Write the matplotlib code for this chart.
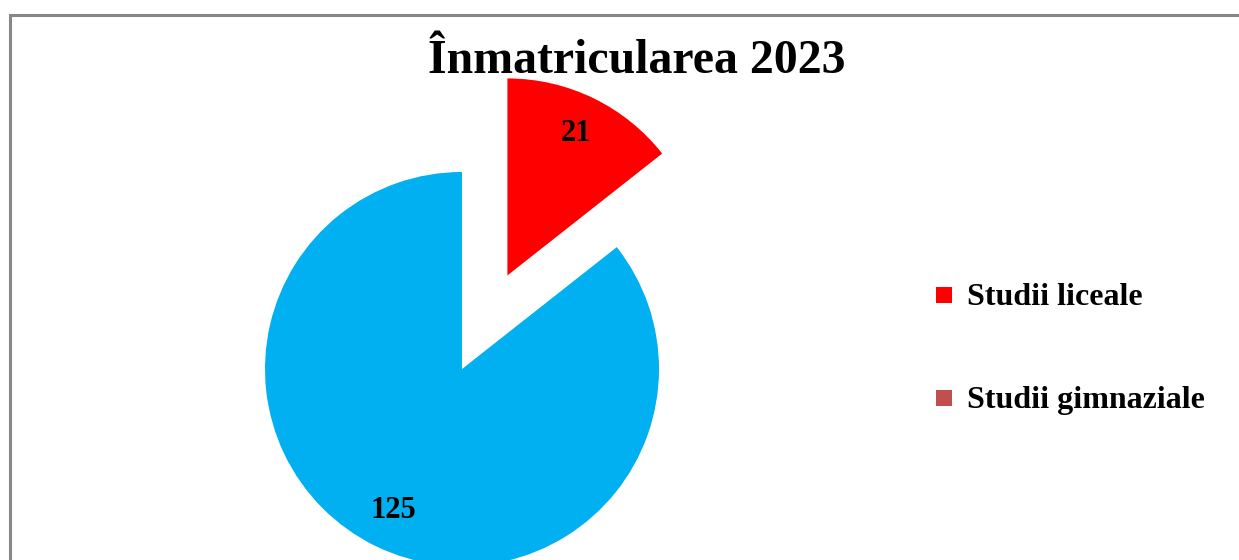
import matplotlib
matplotlib.use("Agg")
import matplotlib.pyplot as plt
from matplotlib.patches import Rectangle

title = "Înmatricularea 2023"
categories = ["Studii liceale", "Studii gimnaziale"]
values = [21, 125]
slice_colors = ["#FF0000", "#00B0F0"]
legend_colors = ["#FF0000", "#C0504D"]

W, H = 1239, 560
fig = plt.figure(figsize=(W / 100, H / 100), dpi=100)
fig.patch.set_facecolor("white")
ax = fig.add_axes([0, 0, 1, 1])

total = sum(values)
wedges, texts, autotexts = ax.pie(
    values, colors=slice_colors, startangle=90, counterclock=False,
    explode=[104, 0], radius=197, center=(462, H - 369),
    autopct=lambda p: f"{round(p * total / 100)}", pctdistance=0.8,
    textprops=dict(family="Liberation Serif", fontweight="bold",
                   fontsize=22, color="black"),
    wedgeprops=dict(linewidth=0), frame=True)
ax.set_xlim(0, W)
ax.set_ylim(0, H)
ax.set_aspect("equal")
ax.axis("off")

# chart border
ax.add_patch(Rectangle((9.5, -10), W, H - 14.5 + 10, fill=False,
                       edgecolor="#878787", linewidth=2.2, zorder=0,
                       clip_on=False))

fig.text(637 / W, 1 - 61 / H, title, ha="center", va="center",
         family="Liberation Serif", fontweight="bold", fontsize=34.5)

leg_y = [305, 408]
for lab, col, y in zip(categories, legend_colors, leg_y):
    ax.add_patch(Rectangle((936, H - y + 2), 16, 16, facecolor=col,
                           edgecolor="none"))
    fig.text(967 / W, 1 - y / H, lab, ha="left", va="baseline",
             family="Liberation Serif", fontweight="bold", fontsize=23)

fig.savefig("out.png", dpi=100, facecolor="white")
